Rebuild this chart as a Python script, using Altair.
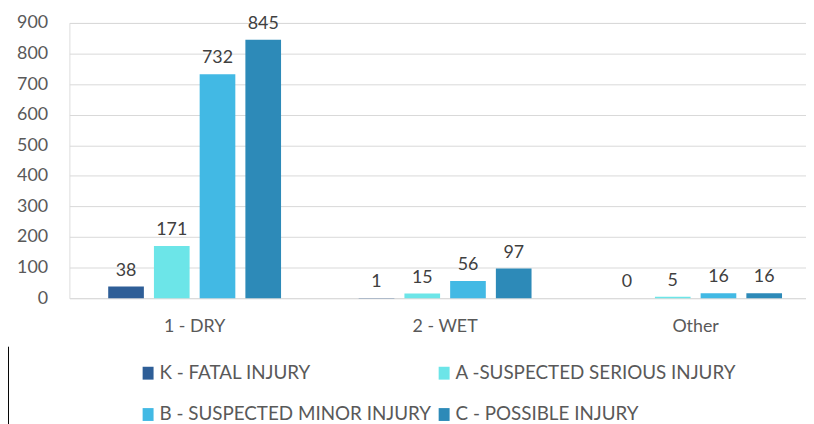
import altair as alt
import pandas as pd

categories = ["1 - DRY", "2 - WET", "Other"]
series = ["K - FATAL INJURY", "A -SUSPECTED SERIOUS INJURY",
          "B - SUSPECTED MINOR INJURY", "C - POSSIBLE INJURY"]
k_vals = [38, 1, 0]
a_vals = [171, 15, 5]
b_vals = [732, 56, 16]
c_vals = [845, 97, 16]
colors = ["#2E5E97", "#6CE5E8", "#42B9E4", "#2D8AB8"]

rows = []
for s, vals in zip(series, [k_vals, a_vals, b_vals, c_vals]):
    for c, v in zip(categories, vals):
        rows.append({"cat": c, "series": s, "value": v})
df = pd.DataFrame(rows)

# legend fills column-wise, so order domain to read K, A / B, C row by row
legend_order = [series[0], series[2], series[1], series[3]]
legend_colors = [colors[0], colors[2], colors[1], colors[3]]

FONT = "Lato"
x = alt.X("cat:N", sort=categories, title=None,
          scale=alt.Scale(paddingInner=0.31, paddingOuter=0.155, range=[0, 759]),
          axis=alt.Axis(labelAngle=0, labelFontSize=18, labelColor="#595959",
                        labelPadding=20, ticks=False, domain=False, labelFont=FONT))
xo = alt.XOffset("series:N", sort=series,
                 scale=alt.Scale(paddingInner=0.22, paddingOuter=0))
y = alt.Y("value:Q", title=None,
          scale=alt.Scale(domain=[0, 900], nice=False),
          axis=alt.Axis(values=list(range(0, 1000, 100)), labelFontSize=18,
                        labelColor="#595959", labelPadding=22, ticks=False,
                        labelOverlap=False, labelFlush=False,
                        domain=False, gridColor="#D9D9D9", labelFont=FONT))

bars = alt.Chart(df).mark_bar().encode(
    x=x, xOffset=xo, y=y,
    color=alt.Color("series:N", sort=legend_order,
                    scale=alt.Scale(domain=legend_order, range=legend_colors),
                    legend=alt.Legend(title=None, orient="none", legendX=70, legendY=344,
                                      columns=2, symbolType="M-0.85,-1H0.85V1H-0.85Z",
                                      symbolSize=169, symbolStrokeWidth=0,
                                      labelFontSize=19, labelColor="#595959",
                                      labelFont=FONT, rowPadding=22, columnPadding=3,
                                      labelOffset=2, labelLimit=400, symbolOpacity=1))
)

labels = alt.Chart(df).mark_text(dy=-16, fontSize=18, color="#404040", font=FONT).encode(
    x=x, xOffset=xo, y=y, text="value:Q")

edge = alt.Chart(pd.DataFrame({"v": [0]})).mark_rule(color="#000000", strokeWidth=1).encode(
    x=alt.value(-61.5), y=alt.value(327), y2=alt.value(410))

chart = alt.layer(bars, labels, edge).properties(
    width=744, height=278,
    autosize=alt.AutoSizeParams(type="none"),
    padding={"left": 62, "top": 13, "right": 0, "bottom": 128},
).configure_view(stroke=None).configure(font=FONT)

chart.save("out.html", embed_options={"renderer": "svg", "actions": False})
